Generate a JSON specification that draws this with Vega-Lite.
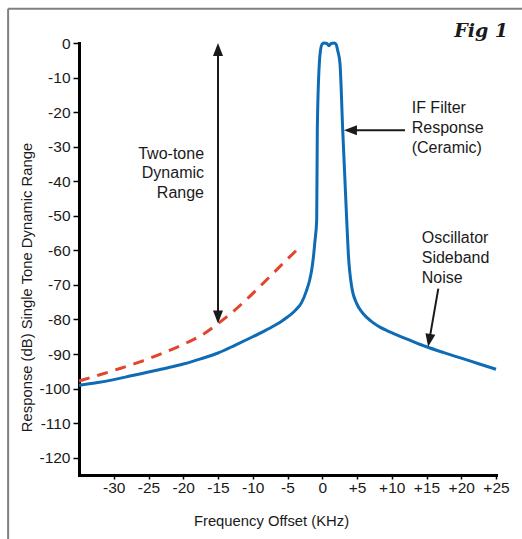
{
  "$schema": "https://vega.github.io/schema/vega-lite/v6.json",
  "width": 417,
  "height": 432,
  "autosize": {"type": "none"},
  "padding": {"left": 79, "top": 43, "right": 26, "bottom": 64},
  "background": "white",
  "config": {
    "view": {"stroke": null},
    "axis": {"grid": false, "domainColor": "black", "domainWidth": 3, "domainCap": "square", "tickColor": "black", "tickWidth": 1.5, "labelFont": "Liberation Sans", "labelFontSize": 15.5, "labelColor": "#1a1a1a", "labelOverlap": false, "labelFlush": false, "titleFont": "Liberation Sans", "titleFontSize": 14.8, "titleFontWeight": "normal", "titleColor": "#1a1a1a"}
  },
  "datasets": {
    "blue": [
      {"x": -35, "y": -99.0}, {"x": -32.5, "y": -98.3}, {"x": -30, "y": -97.4}, {"x": -27.5, "y": -96.3},
      {"x": -25, "y": -95.2}, {"x": -22.5, "y": -94.1}, {"x": -20, "y": -92.9}, {"x": -17.5, "y": -91.4},
      {"x": -15, "y": -89.7}, {"x": -12.5, "y": -87.4}, {"x": -10, "y": -85.0}, {"x": -8.5, "y": -83.5},
      {"x": -7, "y": -81.9}, {"x": -6, "y": -80.7}, {"x": -5, "y": -79.3}, {"x": -4, "y": -77.6},
      {"x": -3, "y": -75.2}, {"x": -2.24, "y": -71.5}, {"x": -1.8, "y": -68.5}, {"x": -1.52, "y": -65.7},
      {"x": -1.25, "y": -61.5}, {"x": -1.04, "y": -57.1}, {"x": -0.8, "y": -51.3}, {"x": -0.71, "y": -25},
      {"x": -0.42, "y": -5.9}, {"x": -0.25, "y": -2.1}, {"x": 0.0, "y": -0.3}, {"x": 0.3, "y": 0},
      {"x": 0.7, "y": -0.2}, {"x": 0.97, "y": -0.8}, {"x": 1.25, "y": -0.2}, {"x": 1.7, "y": 0},
      {"x": 2.0, "y": -0.4}, {"x": 2.2, "y": -2.0}, {"x": 2.55, "y": -5.9}, {"x": 2.94, "y": -25},
      {"x": 3.52, "y": -51.3}, {"x": 3.75, "y": -60.9}, {"x": 4.24, "y": -70.6}, {"x": 4.96, "y": -75.4},
      {"x": 5.6, "y": -77.6}, {"x": 6.4, "y": -79.4}, {"x": 7.3, "y": -80.9}, {"x": 8.3, "y": -82.2},
      {"x": 9.3, "y": -83.2}, {"x": 10.2, "y": -84.0}, {"x": 12.5, "y": -85.9}, {"x": 15, "y": -87.9},
      {"x": 17.5, "y": -89.6}, {"x": 20, "y": -91.2}, {"x": 22.5, "y": -92.8}, {"x": 25, "y": -94.4}
    ],
    "red": [
      {"x": -35, "y": -97.8}, {"x": -32, "y": -96.0}, {"x": -29, "y": -94.1}, {"x": -26, "y": -92.1},
      {"x": -23, "y": -89.8}, {"x": -20, "y": -87.2}, {"x": -17, "y": -84.1}, {"x": -15, "y": -81.2},
      {"x": -13, "y": -78.0}, {"x": -11, "y": -74.4}, {"x": -9, "y": -70.5}, {"x": -7, "y": -66.5},
      {"x": -5, "y": -62.5}, {"x": -3.2, "y": -59.0}
    ],
    "frame": [
      {"x": -45.2, "y": 9.9, "x2": 30, "y2": 9.9},
      {"x": -45.2, "y": 9.9, "x2": -45.2, "y2": -150}
    ],
    "shafts": [
      {"x": -15, "y": -79.3, "x2": -15, "y2": -1.9},
      {"x": 4.06, "y": -25.26, "x2": 11.91, "y2": -25.26},
      {"x": 15.4, "y": -86.05, "x2": 16.7, "y2": -71.07}
    ]
  },
  "encoding": {
    "x": {"field": "x", "type": "quantitative", "scale": {"domain": [-35, 25], "nice": false, "zero": false},
      "axis": {"values": [-30, -25, -20, -15, -10, -5, 0, 5, 10, 15, 20, 25], "labelExpr": "datum.value > 0 ? '+' + datum.value : '' + datum.value", "tickSize": 4, "labelPadding": 1, "title": "Frequency Offset (KHz)", "titleX": 192, "titleY": 50, "titleAlign": "center", "titleBaseline": "alphabetic"}},
    "y": {"field": "y", "type": "quantitative", "scale": {"domain": [-125, 0], "nice": false, "zero": false},
      "axis": {"values": [-120, -110, -100, -90, -80, -70, -60, -50, -40, -30, -20, -10, 0], "labelExpr": "'' + datum.value", "tickSize": 6, "labelPadding": 3, "title": "Response (dB) Single Tone Dynamic Range", "titleAngle": 270, "titleX": -47.5, "titleY": 244, "titleAlign": "center", "titleBaseline": "alphabetic"}}
  },
  "layer": [
    {"data": {"name": "frame"}, "mark": {"type": "rule", "color": "#808080", "strokeWidth": 2},
      "encoding": {"x2": {"field": "x2"}, "y2": {"field": "y2"}}},
    {"data": {"name": "red"}, "mark": {"type": "line", "color": "#e2452c", "strokeWidth": 3, "strokeDash": [11, 8], "interpolate": "monotone"}},
    {"data": {"name": "blue"}, "mark": {"type": "line", "color": "#0d6cb5", "strokeWidth": 3, "interpolate": "monotone"}},
    {"data": {"name": "shafts"}, "mark": {"type": "rule", "color": "#1a1a1a", "strokeWidth": 2},
      "encoding": {"x2": {"field": "x2"}, "y2": {"field": "y2"}}},
    {"data": {"values": [{"x": -15, "y": -1.88}]}, "mark": {"type": "point", "shape": "M0,-1L-0.77,1L0.77,1Z", "size": 169, "filled": true, "color": "#1a1a1a", "opacity": 1}},
    {"data": {"values": [{"x": -15, "y": -79.3}]}, "mark": {"type": "point", "shape": "M0,1L-0.77,-1L0.77,-1Z", "size": 169, "filled": true, "color": "#1a1a1a", "opacity": 1}},
    {"data": {"values": [{"x": 4.06, "y": -25.26}]}, "mark": {"type": "point", "shape": "M-1,0L1,-0.77L1,0.77Z", "size": 169, "filled": true, "color": "#1a1a1a", "opacity": 1}},
    {"data": {"values": [{"x": 15.4, "y": -86.05}]}, "mark": {"type": "point", "shape": "M0,1L-0.77,-1L0.77,-1Z", "size": 169, "filled": true, "color": "#1a1a1a", "opacity": 1, "angle": 9.8}},
    {"data": {"values": [{"x": -17.01, "y": -32.1, "label": "Two-tone\nDynamic\nRange"}]},
      "mark": {"type": "text", "align": "right", "baseline": "middle", "lineBreak": "\n", "lineHeight": 19.5, "font": "Liberation Sans", "fontSize": 16, "color": "#1a1a1a"},
      "encoding": {"text": {"field": "label"}}},
    {"data": {"values": [{"x": 12.87, "y": -18.9, "label": "IF Filter\nResponse\n(Ceramic)"}, {"x": 14.31, "y": -56.5, "label": "Oscillator\nSideband\nNoise"}]},
      "mark": {"type": "text", "align": "left", "baseline": "middle", "lineBreak": "\n", "lineHeight": 20, "font": "Liberation Sans", "fontSize": 16, "color": "#1a1a1a"},
      "encoding": {"text": {"field": "label"}}},
    {"data": {"values": [{"x": 26.73, "y": 1.74, "label": "Fig 1"}]},
      "mark": {"type": "text", "align": "right", "baseline": "alphabetic", "font": "DejaVu Serif", "fontStyle": "italic", "fontWeight": "bold", "fontSize": 19, "color": "#1a1a1a"},
      "encoding": {"text": {"field": "label"}}}
  ]
}
